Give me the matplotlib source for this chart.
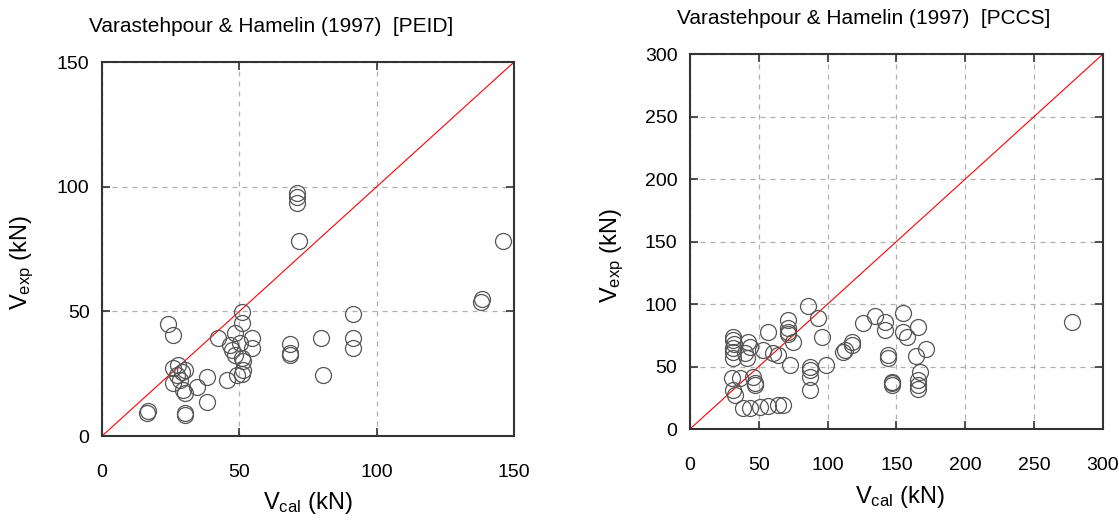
import matplotlib
matplotlib.use("Agg")
import matplotlib.pyplot as plt
from matplotlib import font_manager

# pick a narrow sans if available
names = set(f.name for f in font_manager.fontManager.ttflist)
font = "Liberation Sans Narrow" if "Liberation Sans Narrow" in names else "Liberation Sans"
plt.rcParams['font.family'] = [font, 'DejaVu Sans']
plt.rcParams['mathtext.fontset'] = 'custom'
plt.rcParams['mathtext.rm'] = font
plt.rcParams['mathtext.it'] = font

# PEID data (left)
peid_cal = [16.3, 16.8, 30.3, 30.3, 38.1, 38.1, 34.5, 30.2, 29.6, 25.7, 26.0, 27.8,
            29.0, 30.2, 28.4, 27.4, 24.1, 25.7, 42.3, 48.4, 50.8, 50.8, 54.5, 54.5,
            46.6, 47.2, 48.4, 50.2, 50.8, 51.2, 51.4, 51.0, 49.0, 45.4, 70.9, 70.9,
            70.9, 71.8, 145.9, 137.9, 138.2, 91.3, 91.3, 91.3, 79.6, 80.6, 68.4,
            68.4, 68.4]
peid_exp = [9.1, 10.0, 8.4, 9.3, 13.8, 23.8, 19.5, 17.1, 18.5, 21.1, 27.1, 28.5,
            25.8, 26.5, 22.5, 24.5, 44.9, 40.6, 39.2, 41.2, 45.2, 49.9, 39.2, 35.2,
            36.5, 34.5, 32.5, 37.2, 31.2, 30.0, 26.5, 25.0, 24.5, 22.5, 97.3, 96.0,
            93.3, 78.2, 78.2, 53.9, 54.8, 48.8, 39.4, 35.2, 39.4, 24.5, 36.9,
            33.1, 32.3]

# PCCS data (right)
pccs_cal = [85.9, 31.5, 31.5, 32.0, 31.5, 31.5, 42.4, 43.6, 41.2, 40.0, 31.5, 53.3,
            56.9, 60.5, 71.4, 71.4, 71.4, 71.4, 75.0, 64.2, 72.6, 30.3, 36.3, 46.0,
            47.2, 47.2, 31.5, 32.7, 38.7, 43.6, 50.8, 56.9, 64.2, 67.8, 87.2, 87.2,
            87.2, 87.2, 93.2, 95.6, 98.8, 125.4, 134.4, 141.6, 141.6, 117.5, 117.5,
            111.4, 112.5, 144.0, 144.0, 146.5, 146.5, 147.0, 154.5, 154.5, 157.4,
            165.8, 164.2, 171.4, 167.1, 165.8, 165.8, 165.8, 277.2]
pccs_exp = [98.4, 74.0, 71.0, 68.0, 65.0, 62.0, 69.9, 65.9, 56.5, 60.5, 56.5, 63.2,
            77.9, 60.5, 87.2, 81.0, 78.0, 76.0, 69.9, 59.2, 51.2, 40.5, 40.5, 41.9,
            36.5, 35.2, 31.2, 27.2, 16.5, 16.5, 17.9, 18.5, 19.2, 19.2, 49.9, 47.0,
            41.9, 31.2, 88.6, 73.9, 51.2, 85.1, 90.4, 85.9, 79.2, 69.9, 67.2,
            61.8, 63.5, 59.2, 56.5, 37.9, 36.5, 35.2, 93.1, 77.9, 73.9,
            81.9, 58.4, 63.8, 45.9, 39.2, 35.2, 31.8, 85.9]

fig = plt.figure(figsize=(11.19, 5.23), dpi=100)


def panel(rect, xs, ys, lim, step):
    ax = fig.add_axes(rect)
    ax.plot([0, lim], [0, lim], color='red', lw=0.8, zorder=2)
    ax.plot(xs, ys, 'o', ms=11.5, mfc='none', mec='#555555', mew=0.9, zorder=3)
    ax.set_xlim(0, lim)
    ax.set_ylim(0, lim)
    ticks = list(range(0, lim + 1, step))
    ax.set_xticks(ticks)
    ax.set_yticks(ticks)
    ax.grid(True, color='#b0b0b0', ls=(0, (4, 4)), lw=0.9)
    ax.tick_params(direction='in', length=6, width=1.2, top=True, right=True,
                   labelsize=14, color='#333333')
    ax.tick_params(axis='x', pad=20)
    ax.tick_params(axis='y', pad=9)
    for s in ax.spines.values():
        s.set_linewidth(1.5)
        s.set_color('#333333')
    ax.set_axisbelow(True)
    return ax


ax1 = panel([0.0912, 0.1663, 0.3682, 0.7151], peid_cal, peid_exp, 150, 50)
ax2 = panel([0.6166, 0.1797, 0.3691, 0.7170], pccs_cal, pccs_exp, 300, 50)

fig.text(271 / 1119, 1 - 27 / 523, 'Varastehpour & Hamelin (1997)  [PEID]',
         ha='center', va='center', fontsize=15)
fig.text(864 / 1119, 1 - 19 / 523, 'Varastehpour & Hamelin (1997)  [PCCS]',
         ha='center', va='center', fontsize=15)

xl = r'$\mathregular{V_{cal}}$ (kN)'
yl = r'$\mathregular{V_{exp}}$ (kN)'
fig.text(308 / 1119, 1 - 503 / 523, xl, ha='center', va='center', fontsize=17)
fig.text(900 / 1119, 1 - 497 / 523, xl, ha='center', va='center', fontsize=17)
fig.text(22 / 1119, 1 - 262 / 523, yl, ha='center', va='center', fontsize=17, rotation=90)
fig.text(612 / 1119, 1 - 255 / 523, yl, ha='center', va='center', fontsize=17, rotation=90)

fig.savefig('out.png', dpi=100)
